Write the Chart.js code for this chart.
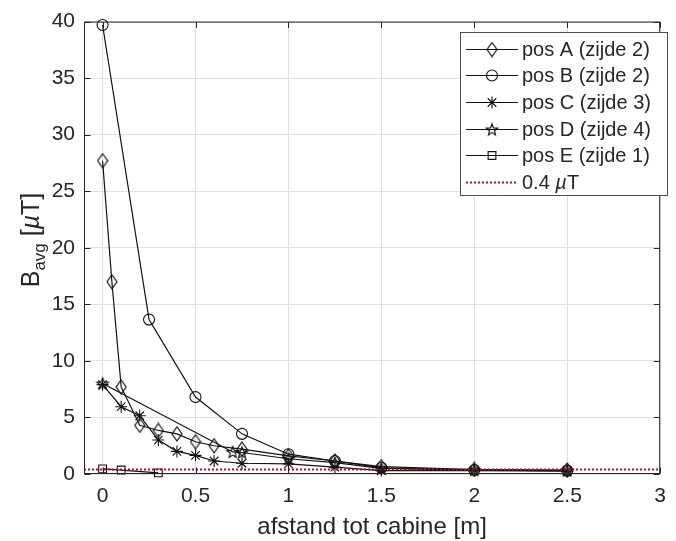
<!DOCTYPE html>
<html>
<head>
<meta charset="utf-8">
<script src="https://cdn.jsdelivr.net/npm/chart.js@4.4.1/dist/chart.umd.min.js"></script>
<style>
  html, body { margin: 0; padding: 0; background: #ffffff; }
  #wrap { width: 676px; height: 541px; }
</style>
</head>
<body>
<div id="wrap"><canvas id="c" width="676" height="541"></canvas></div>
<script>
// Average magnetic flux density [µT] against distance to the cabin [m]
const xA = [0, 0.05, 0.1, 0.2, 0.3, 0.4, 0.5, 0.6, 0.75, 1, 1.25, 1.5, 2, 2.5];
const yA = [27.7, 17.0, 7.7, 4.3, 3.85, 3.55, 2.85, 2.5, 2.2, 1.6, 1.15, 0.65, 0.4, 0.35];

const xB = [0, 0.25, 0.5, 0.75, 1, 1.25, 1.5, 2, 2.5];
const yB = [39.7, 13.65, 6.8, 3.55, 1.75, 1.15, 0.55, 0.35, 0.3];

const xC = [0, 0.1, 0.2, 0.3, 0.4, 0.5, 0.6, 0.75, 1, 1.25, 1.5, 2, 2.5];
const yC = [7.9, 5.95, 5.15, 3.0, 2.0, 1.65, 1.15, 0.95, 0.9, 0.6, 0.3, 0.3, 0.25];

const xD = [0, 0.7, 0.75, 1, 1.25, 1.5, 2, 2.5];
const yD = [8.0, 1.95, 1.9, 1.35, 1.0, 0.5, 0.35, 0.3];

const xE = [0, 0.1, 0.3];
const yE = [0.45, 0.35, 0.1];

const limitValue = 0.4;
const limitRange = [-0.1, 3];

const seriesNames = ['pos A (zijde 2)', 'pos B (zijde 2)', 'pos C (zijde 3)', 'pos D (zijde 4)', 'pos E (zijde 1)'];
const xTicks = [0, 0.5, 1, 1.5, 2, 2.5, 3];
const yTicks = [0, 5, 10, 15, 20, 25, 30, 35, 40];

const xTitle = 'afstand tot cabine [m]';

// ---- styling ----
const INK = '#111111';
const AXIS = '#262626';
const GRID = '#dfdfdf';
const LIMIT = '#a2142f';
const FONT = '"Liberation Sans", Arial, Helvetica, sans-serif';

// unfilled marker images for shapes Chart.js lacks
function markerCanvas(w, h, draw) {
  const c = document.createElement('canvas');
  c.width = w; c.height = h;
  const g = c.getContext('2d');
  g.strokeStyle = INK;
  g.lineWidth = 1.2;
  draw(g, w / 2, h / 2);
  return c;
}
const diamondMarker = markerCanvas(12, 16, (g, cx, cy) => {
  g.beginPath();
  g.moveTo(cx, cy - 7);
  g.lineTo(cx + 5, cy);
  g.lineTo(cx, cy + 7);
  g.lineTo(cx - 5, cy);
  g.closePath();
  g.stroke();
});
const pentagramMarker = markerCanvas(16, 16, (g, cx, cy) => {
  const R = 6, r = 2.6;
  g.beginPath();
  for (let i = 0; i < 10; i++) {
    const a = -Math.PI / 2 + i * Math.PI / 5;
    const rad = i % 2 === 0 ? R : r;
    const px = cx + rad * Math.cos(a), py = cy + 0.5 + rad * Math.sin(a);
    if (i === 0) g.moveTo(px, py); else g.lineTo(px, py);
  }
  g.closePath();
  g.stroke();
});

const markers = [
  { pointStyle: diamondMarker, radius: 7 },
  { pointStyle: 'circle', radius: 5.5 },
  { pointStyle: 'star', radius: 6 },
  { pointStyle: pentagramMarker, radius: 7 },
  { pointStyle: 'rect', radius: 5.5 }
];

const pts = (xs, ys) => xs.map((x, i) => ({ x: x, y: ys[i] }));
const seriesX = [xA, xB, xC, xD, xE];
const seriesY = [yA, yB, yC, yD, yE];

const datasets = seriesNames.map((name, i) => ({
  label: name,
  data: pts(seriesX[i], seriesY[i]),
  showLine: true,
  clip: false,
  borderColor: INK,
  backgroundColor: 'rgba(0,0,0,0)',
  borderWidth: 1.2,
  pointStyle: markers[i].pointStyle,
  pointRadius: markers[i].radius,
  pointBorderWidth: 1.1,
  pointBorderColor: INK,
  pointBackgroundColor: 'rgba(0,0,0,0)',
  tension: 0
}));
datasets.push({
  label: '0.4 µT',
  data: limitRange.map(x => ({ x: x, y: limitValue })),
  showLine: true,
  borderColor: LIMIT,
  borderWidth: 2,
  borderDash: [2, 2],
  pointRadius: 0,
  order: -1
});

// box, inward ticks, axis titles and legend
const decorations = {
  id: 'decorations',
  afterDraw(chart) {
    const ctx = chart.ctx;
    const a = chart.chartArea;
    const xs = chart.scales.x, ys = chart.scales.y;
    const L = a.left + 0.5, R = a.right - 0.5, T = a.top + 0.5, B = a.bottom - 0.5;
    ctx.save();

    // box
    ctx.strokeStyle = AXIS;
    ctx.lineWidth = 1;
    ctx.strokeRect(L, T, R - L, B - T);

    // inward ticks on all four sides
    const tl = 6;
    ctx.beginPath();
    xTicks.forEach(v => {
      const px = Math.round(xs.getPixelForValue(v)) + 0.5;
      ctx.moveTo(px, B); ctx.lineTo(px, B - tl);
      ctx.moveTo(px, T); ctx.lineTo(px, T + tl);
    });
    yTicks.forEach(v => {
      const py = Math.round(ys.getPixelForValue(v)) + 0.5;
      ctx.moveTo(L, py); ctx.lineTo(L + tl, py);
      ctx.moveTo(R, py); ctx.lineTo(R - tl, py);
    });
    ctx.stroke();

    // x title
    ctx.fillStyle = AXIS;
    ctx.font = '24px ' + FONT;
    ctx.textAlign = 'center';
    ctx.textBaseline = 'alphabetic';
    ctx.fillText(xTitle, (a.left + a.right) / 2, 534);

    // y title: B with subscript avg, then [µT]
    ctx.save();
    ctx.translate(39, 240);
    ctx.rotate(-Math.PI / 2);
    const parts = [
      { t: 'B', f: '25px ' + FONT, dy: 0 },
      { t: 'avg', f: '17px ' + FONT, dy: 6 },
      { t: ' [', f: '25px ' + FONT, dy: 0 },
      { t: 'µ', f: 'italic 25px ' + FONT, dy: 0 },
      { t: 'T]', f: '25px ' + FONT, dy: 0 }
    ];
    let total = 0;
    parts.forEach(p => { ctx.font = p.f; p.w = ctx.measureText(p.t).width; total += p.w; });
    let cx = -total / 2;
    ctx.textAlign = 'left';
    parts.forEach(p => { ctx.font = p.f; ctx.fillText(p.t, cx, p.dy); cx += p.w; });
    ctx.restore();

    // legend
    const bx = 460.5, by = 32.5, bw = 207, bh = 163;
    ctx.fillStyle = '#ffffff';
    ctx.fillRect(bx, by, bw, bh);
    ctx.strokeStyle = '#4d4d4d';
    ctx.lineWidth = 1;
    ctx.strokeRect(bx, by, bw, bh);

    const rowY = i => 48.5 + i * 26.7;
    const lx0 = 466, lx1 = 518, mx = 492, tx = 522;
    ctx.textBaseline = 'middle';
    ctx.textAlign = 'left';
    seriesNames.forEach((name, i) => {
      const y = Math.round(rowY(i)) + 0.5;
      ctx.strokeStyle = INK;
      ctx.lineWidth = 1.2;
      ctx.setLineDash([]);
      ctx.beginPath(); ctx.moveTo(lx0, y); ctx.lineTo(lx1, y); ctx.stroke();
      ctx.lineWidth = 1.1;
      ctx.fillStyle = 'rgba(0,0,0,0)';
      Chart.helpers.drawPoint(ctx, {
        pointStyle: markers[i].pointStyle,
        radius: markers[i].radius,
        rotation: 0,
        borderWidth: 1.1
      }, mx, y);
      ctx.fillStyle = AXIS;
      ctx.font = '20px ' + FONT;
      ctx.fillText(name, tx, y + 1);
    });
    // limit entry
    const yl = Math.round(rowY(5)) + 0.5;
    ctx.strokeStyle = LIMIT;
    ctx.lineWidth = 2;
    ctx.setLineDash([2, 2]);
    ctx.beginPath(); ctx.moveTo(lx0, yl); ctx.lineTo(lx1, yl); ctx.stroke();
    ctx.setLineDash([]);
    ctx.fillStyle = AXIS;
    let px = tx;
    [['0.4 ', '20px '], ['µ', 'italic 20px '], ['T', '20px ']].forEach(([t, f]) => {
      ctx.font = f + FONT;
      ctx.fillText(t, px, yl + 1);
      px += ctx.measureText(t).width;
    });

    ctx.restore();
  }
};

new Chart(document.getElementById('c'), {
  type: 'scatter',
  data: { datasets: datasets },
  options: {
    responsive: false,
    animation: false,
    devicePixelRatio: 1,
    layout: { padding: { top: 17, right: 6, left: 0, bottom: 0 } },
    plugins: { legend: { display: false }, tooltip: { enabled: false } },
    scales: {
      x: {
        type: 'linear',
        min: limitRange[0],
        max: limitRange[1],
        afterBuildTicks: s => { s.ticks = xTicks.map(v => ({ value: v })); },
        afterFit: s => { s.height = 67; },
        grid: { color: GRID, lineWidth: 1, drawTicks: false },
        border: { display: false },
        ticks: {
          autoSkip: false, maxRotation: 0, padding: 10,
          color: AXIS, font: { family: FONT, size: 21 },
          callback: v => String(v)
        }
      },
      y: {
        type: 'linear',
        min: 0,
        max: 40,
        afterBuildTicks: s => { s.ticks = yTicks.map(v => ({ value: v })); },
        afterFit: s => { s.width = 84; },
        grid: { color: GRID, lineWidth: 1, drawTicks: false },
        border: { display: false },
        ticks: {
          autoSkip: false, padding: 9,
          color: AXIS, font: { family: FONT, size: 21 },
          callback: v => String(v)
        }
      }
    }
  },
  plugins: [decorations]
});
</script>
</body>
</html>
